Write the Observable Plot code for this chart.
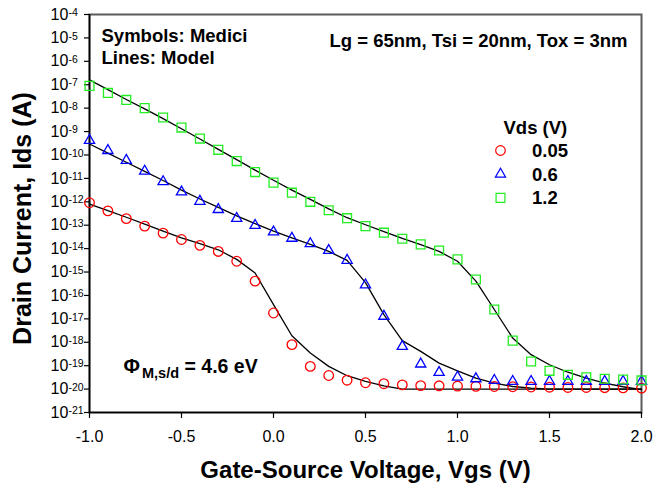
<!DOCTYPE html>
<html>
<head>
<meta charset="utf-8">
<script src="https://cdn.jsdelivr.net/npm/d3@7"></script>
<script src="https://cdn.jsdelivr.net/npm/@observablehq/plot@0.6"></script>
<style>
  html, body { margin: 0; padding: 0; background: #fff; }
</style>
</head>
<body>
<div id="chart"></div>
<script>
// ---- Data (Ids stored as log10 values) ----
const vgs = [-1.0, -0.9, -0.8, -0.7, -0.6, -0.5, -0.4, -0.3, -0.2, -0.1,
              0.0,  0.1,  0.2,  0.3,  0.4,  0.5,  0.6,  0.7,  0.8,  0.9,
              1.0,  1.1,  1.2,  1.3,  1.4,  1.5,  1.6,  1.7,  1.8,  1.9, 2.0];

// Medici symbols
const mediciLog005 = [-12.04, -12.39, -12.72, -13.04, -13.34, -13.61, -13.86, -14.12, -14.54, -15.39,
                      -16.75, -18.10, -19.03, -19.42, -19.62, -19.73, -19.77, -19.82, -19.85, -19.86,
                      -19.87, -19.88, -19.89, -19.90, -19.91, -19.92, -19.93, -19.93, -19.94, -19.95, -19.96];
const mediciLog06  = [-9.38, -9.81, -10.23, -10.69, -11.14, -11.58, -11.98, -12.33, -12.71, -13.01,
                      -13.29, -13.56, -13.79, -14.08, -14.50, -15.55, -16.89, -18.18, -18.93, -19.29,
                      -19.49, -19.56, -19.63, -19.67, -19.67, -19.67, -19.67, -19.67, -19.67, -19.67, -19.67];
const mediciLog12  = [-7.05, -7.35, -7.65, -8.00, -8.40, -8.83, -9.30, -9.78, -10.26, -10.73,
                      -11.18, -11.61, -12.00, -12.36, -12.70, -13.04, -13.32, -13.58, -13.82, -14.08,
                      -14.46, -15.32, -16.60, -17.93, -18.82, -19.22, -19.39, -19.50, -19.56, -19.59, -19.63];

// Model lines
const modelLog005 = [-12.10, -12.38, -12.66, -12.95, -13.25, -13.54, -13.79, -14.05, -14.46, -15.04,
                     -16.39, -17.72, -18.46, -19.03, -19.43, -19.67, -19.86, -20.00, -20.00, -20.00,
                     -20.00, -20.00, -20.00, -20.00, -20.00, -20.00, -20.00, -20.00, -20.00, -20.00, -20.00];
const modelLog06  = [-9.53, -9.92, -10.31, -10.70, -11.09, -11.50, -11.88, -12.24, -12.60, -12.93,
                     -13.25, -13.54, -13.82, -14.12, -14.50, -15.45, -16.82, -17.93, -18.39, -18.89,
                     -19.22, -19.53, -19.75, -19.89, -19.96, -20.00, -20.00, -20.00, -20.00, -20.00, -20.00];
const modelLog12  = [-6.79, -7.21, -7.63, -8.03, -8.45, -8.88, -9.32, -9.76, -10.20, -10.65,
                     -11.08, -11.50, -11.90, -12.30, -12.68, -12.98, -13.27, -13.56, -13.83, -14.12,
                     -14.54, -15.39, -16.60, -17.82, -18.53, -18.96, -19.28, -19.53, -19.75, -19.90, -20.02];

const vdsLabels = ["0.05", "0.6", "1.2"];
const seriesColors = ["#ff0000", "#0000ff", "#22ee22"];
const seriesSymbols = ["circle", "triangle", "square"];
const seriesR = [4.8, 3.8, 5];

const xTicks = [-1.0, -0.5, 0.0, 0.5, 1.0, 1.5, 2.0];
const yExponents = [-21, -20, -19, -18, -17, -16, -15, -14, -13, -12, -11, -10, -9, -8, -7, -6, -5, -4];

// ---- Layout ----
const W = 654, H = 491, ML = 89, MR = 13, MT = 14, MB = 79;
const FONT = "Arial, 'Liberation Sans', Helvetica, sans-serif";
const at = (px, py) => ({frameAnchor: "top-left", dx: px - ML, dy: py - MT});

const rows = (logs) => vgs.map((v, i) => ({vgs: v, ids: Math.pow(10, logs[i])}));
const medici = [mediciLog005, mediciLog06, mediciLog12].map(rows);
const model = [modelLog005, modelLog06, modelLog12].map(rows);

const marks = [
  Plot.frame({stroke: "#5a5a5a", strokeWidth: 2}),
  Plot.ruleX([-1], {stroke: "#000", strokeWidth: 1.6}),
  Plot.ruleY([1e-21], {stroke: "#000", strokeWidth: 1.6}),
  Plot.axisY({ticks: yExponents.map(e => Math.pow(10, e)), tickSize: 5, tickFormat: () => "", label: null, stroke: "#000", strokeWidth: 1.2}),
  Plot.text(yExponents, {y: e => Math.pow(10, e), text: () => "10", frameAnchor: "left", dx: -39,
    textAnchor: "start", lineAnchor: "middle", fontSize: 16, fill: "#000"}),
  Plot.text(yExponents, {y: e => Math.pow(10, e), text: e => String(e), frameAnchor: "left", dx: -21, dy: -5.8,
    textAnchor: "start", lineAnchor: "top", fontSize: 10.5, fill: "#000"}),
  Plot.axisX({ticks: xTicks, tickSize: 6, tickPadding: 12, tickFormat: d => d.toFixed(1), fontSize: 16,
    label: null, stroke: "#000", strokeWidth: 1.2, fill: "#000"}),
  ...model.map(m => Plot.line(m, {x: "vgs", y: "ids", stroke: "#000", strokeWidth: 1.3})),
  ...medici.map((m, i) => Plot.dot(m, {x: "vgs", y: "ids", symbol: seriesSymbols[i], r: seriesR[i],
    stroke: seriesColors[i], fill: "none", strokeWidth: 1.3})),
  // axis titles
  Plot.text(["Gate-Source Voltage, Vgs (V)"], {frameAnchor: "bottom", dy: 65, lineAnchor: "bottom",
    fontSize: 24, fontWeight: "bold", fill: "#000"}),
  Plot.text(["Drain Current, Ids (A)"], {frameAnchor: "left", dx: 22 - ML, dy: 5, rotate: -90,
    lineAnchor: "middle", textAnchor: "middle", fontSize: 25, fontWeight: "bold", fill: "#000"}),
  // annotations
  Plot.text(["Symbols: Medici"], {...at(101, 41.5), textAnchor: "start", lineAnchor: "bottom", fontSize: 18.5, fontWeight: "bold", fill: "#000"}),
  Plot.text(["Lines: Model"], {...at(101, 63.5), textAnchor: "start", lineAnchor: "bottom", fontSize: 18.5, fontWeight: "bold", fill: "#000"}),
  Plot.text(["Lg = 65nm, Tsi = 20nm, Tox = 3nm"], {...at(627, 46.5), textAnchor: "end", lineAnchor: "bottom", fontSize: 18.5, fontWeight: "bold", fill: "#000"}),
  Plot.text(["Φ"], {...at(123, 372), textAnchor: "start", lineAnchor: "bottom", fontSize: 20, fontWeight: "bold", fill: "#000"}),
  Plot.text(["M,s/d"], {...at(141.5, 377), textAnchor: "start", lineAnchor: "bottom", fontSize: 14.5, fontWeight: "bold", fill: "#000"}),
  Plot.text(["= 4.6 eV"], {...at(184, 372), textAnchor: "start", lineAnchor: "bottom", fontSize: 19.5, fontWeight: "bold", fill: "#000"}),
  // legend
  Plot.text(["Vds (V)"], {...at(503, 133.3), textAnchor: "start", lineAnchor: "bottom", fontSize: 18.5, fontWeight: "bold", fill: "#000"}),
  ...vdsLabels.map((lab, i) => Plot.dot([lab], {...at(500, 150 + i * 23.7), symbol: seriesSymbols[i], r: seriesR[i],
    stroke: seriesColors[i], fill: "none", strokeWidth: 1.2})),
  ...vdsLabels.map((lab, i) => Plot.text([lab], {...at(531.5, 156.7 + i * 23.5), textAnchor: "start", lineAnchor: "bottom",
    fontSize: 18.5, fontWeight: "bold", fill: "#000"}))
];

const chart = Plot.plot({
  width: W, height: H,
  marginLeft: ML, marginRight: MR, marginTop: MT, marginBottom: MB,
  x: {domain: [-1, 2], label: null},
  y: {type: "log", domain: [1e-21, 1e-4], label: null},
  style: {fontFamily: FONT, background: "#fff", color: "#000", overflow: "visible"},
  marks
});
document.getElementById("chart").append(chart);
</script>
</body>
</html>
